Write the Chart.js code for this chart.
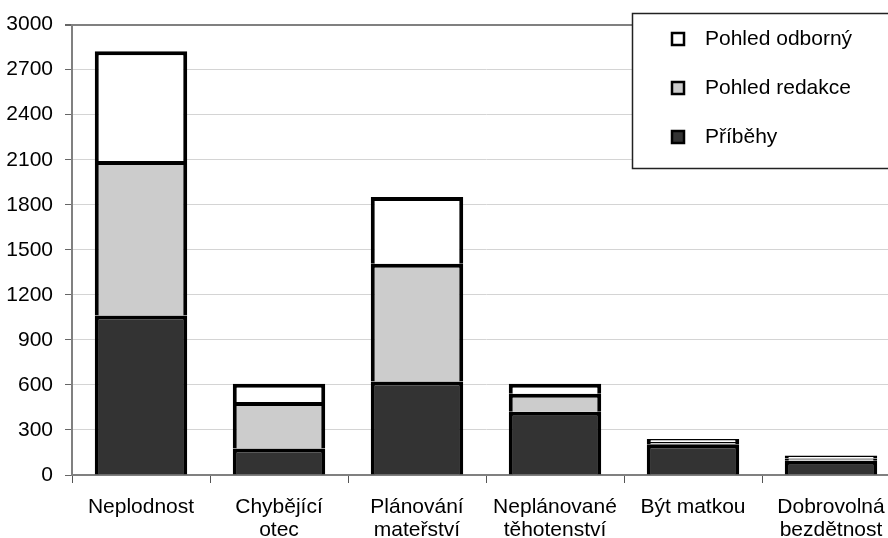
<!DOCTYPE html>
<html>
<head>
<meta charset="utf-8">
<script src="https://cdn.jsdelivr.net/npm/chart.js@4.4.1/dist/chart.umd.min.js"></script>
<style>
  html, body { margin: 0; padding: 0; background: #fff; overflow: hidden; }
  #wrap { position: absolute; left: 0; top: 0; width: 906px; height: 538px; }
</style>
</head>
<body>
<div id="wrap"><canvas id="chart" width="906" height="538"></canvas></div>
<script>
const categories = ['Neplodnost', ['Chybějící', 'otec'], ['Plánování', 'mateřství'],
  ['Neplánované', 'těhotenství'], 'Být matkou', ['Dobrovolná', 'bezdětnost']];
const pribehy = [1062, 177, 622, 422, 205, 95];
const redakce = [1030, 310, 785, 120, 15, 15];
const odborny = [730, 120, 445, 65, 20, 20];
const yTicks = [0, 300, 600, 900, 1200, 1500, 1800, 2100, 2400, 2700, 3000];

const FONT = '"Liberation Sans", Arial, sans-serif';

const boxLegend = {
  id: 'boxLegend',
  afterDraw(chart) {
    const c = chart.ctx;
    c.save();
    c.fillStyle = '#fff';
    c.fillRect(632, 13, 290, 155);
    c.strokeStyle = '#222';
    c.lineWidth = 1.5;
    c.strokeRect(632.5, 13.5, 290, 155);
    const items = chart.data.datasets.slice().reverse();
    items.forEach((ds, i) => {
      const y = 39 + i * 49;
      c.fillStyle = ds.backgroundColor;
      c.fillRect(672, y - 6, 12, 12);
      c.strokeStyle = '#000';
      c.lineWidth = 2.5;
      c.strokeRect(672, y - 6, 12, 12);
      c.fillStyle = '#000';
      c.font = '21px ' + FONT;
      c.textBaseline = 'middle';
      c.fillText(ds.label, 705, y);
    });
    c.restore();
  }
};

new Chart(document.getElementById('chart'), {
  type: 'bar',
  data: {
    labels: categories,
    datasets: [
      { label: 'Příběhy', data: pribehy, backgroundColor: '#333333' },
      { label: 'Pohled redakce', data: redakce, backgroundColor: '#cccccc' },
      { label: 'Pohled odborný', data: odborny, backgroundColor: '#ffffff' }
    ]
  },
  options: {
    responsive: false,
    devicePixelRatio: 1,
    animation: false,
    layout: { padding: { top: 23, right: 6, left: 0, bottom: 0 } },
    datasets: {
      bar: { borderColor: '#000', borderWidth: 4, categoryPercentage: 1, barPercentage: 0.67 }
    },
    plugins: { legend: { display: false }, tooltip: { enabled: false } },
    scales: {
      x: {
        stacked: true,
        afterFit: s => { s.height = 63; },
        grid: { drawOnChartArea: false, offset: true, tickLength: 8, tickColor: '#555' },
        border: { color: '#808080', width: 2 },
        ticks: { color: '#000', font: { family: FONT, size: 21, lineHeight: 1.1 }, padding: 13, maxRotation: 0 }
      },
      y: {
        stacked: true,
        min: 0,
        max: 3000,
        afterFit: s => { s.width = 72; },
        afterBuildTicks: s => { s.ticks = yTicks.map(v => ({ value: v })); },
        grid: {
          color: ctx => (ctx.tick && ctx.tick.value === 3000 ? '#808080' : '#d4d4d4'),
          lineWidth: ctx => (ctx.tick && ctx.tick.value === 3000 ? 2 : 1),
          tickLength: 7,
          tickColor: '#666'
        },
        border: { color: '#808080', width: 2 },
        ticks: { color: '#000', font: { family: FONT, size: 21 }, padding: 12, callback: v => String(v) }
      }
    }
  },
  plugins: [boxLegend]
});
</script>
</body>
</html>
